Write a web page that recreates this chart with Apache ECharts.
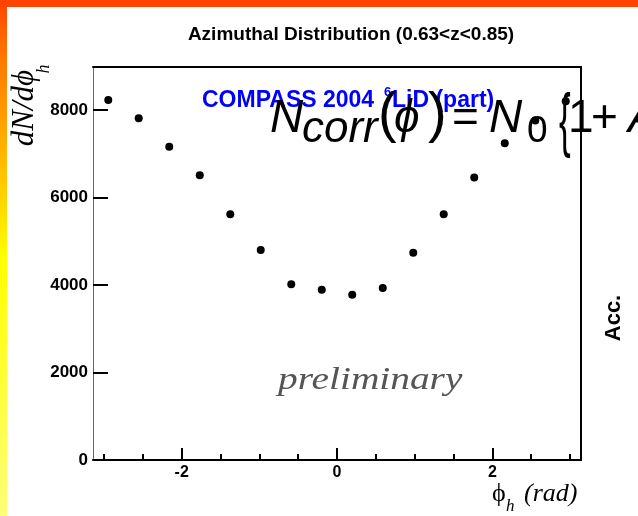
<!DOCTYPE html>
<html>
<head>
<meta charset="utf-8">
<script src="https://cdn.jsdelivr.net/npm/echarts@6/dist/echarts.min.js"></script>
<style>
html,body{margin:0;padding:0;background:#fff;}
#chart{width:638px;height:516px;}
</style>
</head>
<body>
<div id="chart"></div>
<script>
// ---- data ----
const phiBins = [-2.945, -2.553, -2.160, -1.767, -1.374, -0.982, -0.589, -0.196, 0.196, 0.589, 0.982, 1.374, 1.767, 2.160, 2.553, 2.945];
const counts  = [8230, 7810, 7160, 6510, 5620, 4800, 4020, 3890, 3780, 3930, 4740, 5620, 6460, 7240, 7760, 8200];
const xMajorTicks = [-2, 0, 2];
const xMinorTicks = [-3, -2.5, -1.5, -1, -0.5, 0.5, 1, 1.5, 2.5, 3];
const yTicks = [0, 2000, 4000, 6000, 8000];
const xRange = [-3.1416, 3.1416];
const yRange = [0, 8983];

const chart = echarts.init(document.getElementById('chart'), null, {renderer: 'canvas'});
const sans = '"Liberation Sans", Arial, sans-serif';
const serif = '"Liberation Serif", "Times New Roman", serif';

function txt(x, y, text, font, opts) {
  opts = opts || {};
  return {
    type: 'text', x: x, y: y, z: opts.z || 100, zlevel: 0,
    rotation: opts.rotation || 0, scaleX: opts.scaleX || 1, scaleY: opts.scaleY || 1,
    style: {text: text, font: font, fill: opts.fill || '#000', align: opts.align || 'left', verticalAlign: opts.va || 'middle'}
  };
}

const option = {
  backgroundColor: '#fff',
  animation: false,
  grid: {left: 93, right: 57, top: 67, bottom: 56, containLabel: false},
  xAxis: [
    {type: 'value', position: 'bottom', min: xRange[0], max: xRange[1],
     axisLine: {show: true, onZero: false, lineStyle: {color: '#000', width: 2}},
     axisTick: {show: true, inside: true, length: 12, customValues: xMajorTicks, lineStyle: {color: '#000', width: 2}},
     axisLabel: {show: true, customValues: xMajorTicks, margin: 5, color: '#000', fontSize: 16, fontWeight: 'bold', fontFamily: sans},
     splitLine: {show: false}},
    {type: 'value', position: 'bottom', min: xRange[0], max: xRange[1],
     axisLine: {show: false, onZero: false},
     axisTick: {show: true, inside: true, length: 6, customValues: xMinorTicks, lineStyle: {color: '#000', width: 2}},
     axisLabel: {show: false}, splitLine: {show: false}},
    {type: 'value', position: 'top', min: xRange[0], max: xRange[1],
     axisLine: {show: true, onZero: false, lineStyle: {color: '#000', width: 2}},
     axisTick: {show: false}, axisLabel: {show: false}, splitLine: {show: false}}
  ],
  yAxis: [
    {type: 'value', position: 'left', min: yRange[0], max: yRange[1],
     axisLine: {show: true, onZero: false, lineStyle: {color: '#666', width: 1}},
     axisTick: {show: true, inside: true, length: 15, customValues: yTicks, lineStyle: {color: '#000', width: 2}},
     axisLabel: {show: true, customValues: yTicks, margin: 5, color: '#000', fontSize: 17, fontWeight: 'bold', fontFamily: sans,
                 formatter: v => String(v)},
     splitLine: {show: false}},
    {type: 'value', position: 'right', min: yRange[0], max: yRange[1],
     axisLine: {show: true, onZero: false, lineStyle: {color: '#000', width: 2}},
     axisTick: {show: false}, axisLabel: {show: false}, splitLine: {show: false}}
  ],
  series: [{
    type: 'scatter', xAxisIndex: 0, yAxisIndex: 0,
    symbol: 'circle', symbolSize: 8, itemStyle: {color: '#000', opacity: 1},
    data: phiBins.map((x, i) => [x, counts[i]]), z: 5
  }],
  graphic: [
    // border bands
    {type: 'rect', x: 0, y: 0, z: 200, shape: {width: 7, height: 516},
     style: {fill: new echarts.graphic.LinearGradient(0, 0, 0, 1, [
       {offset: 0, color: '#ff4400'}, {offset: 0.12, color: '#ff7a00'},
       {offset: 0.35, color: '#ffc800'}, {offset: 0.5, color: '#ffff00'},
       {offset: 1, color: '#ffff78'}])}},
    {type: 'rect', x: 0, y: 0, z: 201, shape: {width: 638, height: 7}, style: {fill: '#ff4400'}},
    // title
    txt(351, 35, 'Azimuthal Distribution (0.63<z<0.85)', 'bold 19px ' + sans, {align: 'center'}),
    // experiment label
    txt(202, 101, 'COMPASS 2004', 'bold 23px ' + sans, {fill: '#0000ff'}),
    txt(384, 92, '6', 'bold 13px ' + sans, {fill: '#0000ff'}),
    txt(392, 101, 'LiD (part)', 'bold 23px ' + sans, {fill: '#0000ff'}),
    // formula
    txt(270, 119, 'N', 'italic 46px ' + sans, {z: 110}),
    txt(302, 130, 'corr', 'italic 44px ' + sans, {z: 110}),
    txt(378, 116, '(', '56px ' + sans, {z: 110}),
    txt(394, 119, 'ϕ', 'italic 46px ' + sans, {z: 110}),
    txt(428, 116, ')', '56px ' + sans, {z: 110}),
    txt(452, 119, '=', '46px ' + sans, {z: 110}),
    txt(489, 119, 'N', 'italic 46px ' + sans, {z: 110}),
    txt(527, 132, '0', '37px ' + sans, {z: 110}),
    txt(559, 124, '{', '70px ' + sans, {z: 110, scaleX: 0.5}),
    txt(568, 119, '1', '46px ' + sans, {z: 110}),
    txt(591, 119, '+', '46px ' + sans, {z: 110}),
    txt(628, 119, 'A', 'italic 46px ' + sans, {z: 110}),
    // preliminary
    txt(278, 381, 'preliminary', 'italic 32px ' + serif, {fill: '#555', scaleX: 1.23}),
    // Acc.
    txt(614, 318, 'Acc.', 'bold 22px ' + sans, {align: 'center', rotation: Math.PI / 2}),
    // y axis title
    txt(25, 108, 'dN/dϕ', 'italic 31px ' + serif, {align: 'center', rotation: Math.PI / 2}),
    txt(44, 69, 'h', 'italic 18px ' + serif, {align: 'center', rotation: Math.PI / 2}),
    // x axis title
    txt(492, 494, 'ϕ', '26px ' + serif),
    txt(506, 507, 'h', 'italic 17px ' + serif),
    txt(524, 494, '(rad)', 'italic 26px ' + serif)
  ]
};
chart.setOption(option);
</script>
</body>
</html>
